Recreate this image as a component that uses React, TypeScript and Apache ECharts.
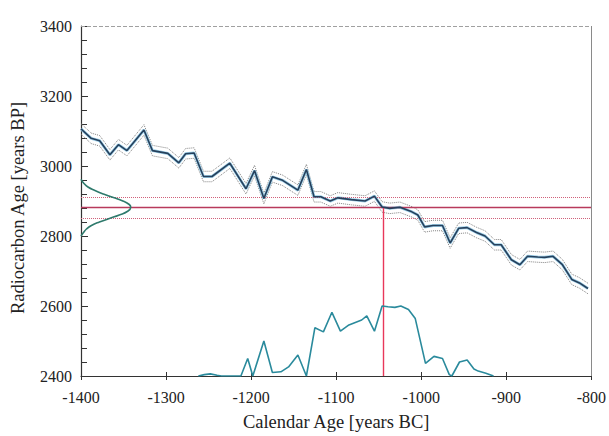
import React, { useEffect, useRef } from "react";
import * as echarts from "echarts";

// Calibration curve: [calendar year, radiocarbon age BP]
const curveYears = [-1400, -1388, -1378, -1366, -1356, -1346, -1326, -1316, -1298, -1285, -1277, -1267, -1256, -1246, -1225, -1206, -1196, -1185, -1175, -1163, -1145, -1135, -1126, -1118, -1107, -1098, -1082, -1066, -1055, -1046, -1037, -1025, -1011, -1004, -996, -986, -975, -966, -956, -946, -935, -925, -914, -906, -894, -884, -875, -863, -855, -845, -834, -823, -814, -804];
const curveBP = [3106, 3079, 3072, 3032, 3061, 3044, 3103, 3044, 3036, 3009, 3035, 3037, 2970, 2970, 3008, 2935, 2987, 2907, 2969, 2959, 2931, 2990, 2912, 2912, 2900, 2909, 2904, 2900, 2914, 2883, 2879, 2882, 2869, 2860, 2826, 2830, 2830, 2780, 2822, 2824, 2810, 2800, 2775, 2775, 2732, 2718, 2742, 2740, 2739, 2742, 2718, 2676, 2666, 2650];
const curveError = 15;

// Measured radiocarbon date
const measuredBP = 2882;
const measuredError = 30;
const interceptYear = -1045;

// Measurement distribution on the BP axis: [relative density, BP]
const gaussBP = [2962, 2950, 2940, 2930, 2920, 2910, 2900, 2890, 2882, 2870, 2860, 2850, 2840, 2830, 2820, 2810, 2800];
const gaussDensity = [0.0, 0.06, 0.14, 0.28, 0.45, 0.65, 0.84, 0.97, 1.0, 0.93, 0.77, 0.57, 0.37, 0.21, 0.11, 0.05, 0.0];

// Calibrated probability: [calendar year, relative probability]
const probYears = [-1262, -1255, -1248, -1240, -1235, -1212, -1204, -1198, -1185, -1175, -1165, -1156, -1145, -1135, -1125, -1115, -1105, -1095, -1085, -1070, -1064, -1055, -1046, -1039, -1031, -1024, -1015, -1007, -995, -985, -975, -967, -964, -955, -946, -938, -933, -924, -915];
const probValues = [0, 0.02, 0.03, 0.01, 0, 0, 0.25, 0, 0.5, 0.05, 0.06, 0.13, 0.3, 0, 0.69, 0.63, 0.91, 0.64, 0.73, 0.8, 0.86, 0.64, 1.0, 0.99, 0.98, 1.0, 0.95, 0.82, 0.18, 0.28, 0.25, 0.02, 0, 0.2, 0.23, 0.1, 0.07, 0.04, 0];

const xTicks = [-1400, -1300, -1200, -1100, -1000, -900, -800];
const yTicks = [2400, 2600, 2800, 3000, 3200, 3400];

const FONT = "'Liberation Serif', 'Times New Roman', serif";

export default function App() {
  const ref = useRef<HTMLDivElement>(null);
  useEffect(() => {
    if (!ref.current) return;
    const chart = echarts.init(ref.current, null, { renderer: "svg" });
    const center = curveYears.map((y, i) => [y, curveBP[i]]);
    const upper = curveYears.map((y, i) => [y, curveBP[i] + curveError]);
    const lower = curveYears.map((y, i) => [y, curveBP[i] - curveError]);
    const gauss = gaussBP.map((b, i) => [gaussDensity[i], b]);
    const prob = probYears.map((y, i) => [y, probValues[i]]);
    const xMin = xTicks[0];
    const xMax = xTicks[xTicks.length - 1];
    const yMin = yTicks[0];
    const yMax = yTicks[yTicks.length - 1];

    chart.setOption({
      animation: false,
      backgroundColor: "#ffffff",
      textStyle: { fontFamily: FONT },
      grid: { left: 81, right: 15, top: 26, bottom: 57 },
      xAxis: [
        {
          type: "value",
          min: xMin,
          max: xMax,
          interval: 100,
          name: "Calendar Age [years BC]",
          nameLocation: "middle",
          nameGap: 36,
          nameTextStyle: { fontFamily: FONT, fontSize: 18.5, color: "#222" },
          axisLine: { show: true, onZero: false, lineStyle: { color: "#333", width: 1.2 } },
          axisTick: { show: true, inside: false, length: 4, lineStyle: { color: "#333" } },
          axisLabel: { fontFamily: FONT, fontSize: 16, color: "#222", margin: 13, formatter: (v: number) => String(v) },
          splitLine: { show: false },
        },
        {
          type: "value",
          min: xMin,
          max: xMax,
          interval: 100,
          position: "bottom",
          axisLine: { show: false, onZero: false },
          axisTick: { show: true, inside: true, length: 4, lineStyle: { color: "#333" } },
          axisLabel: { show: false },
          splitLine: { show: false },
        },
        {
          type: "value",
          min: 0,
          max: 10.26,
          show: false,
        },
      ],
      yAxis: [
        {
          type: "value",
          min: yMin,
          max: yMax,
          interval: 200,
          name: "Radiocarbon Age [years BP]",
          nameLocation: "middle",
          nameGap: 54,
          nameTextStyle: { fontFamily: FONT, fontSize: 18.5, color: "#222", padding: [0, 14, 0, 0] },
          axisLine: { show: true, onZero: false, lineStyle: { color: "#333", width: 1.2 } },
          axisTick: { show: true, inside: true, length: 7, lineStyle: { color: "#333" } },
          minorTick: { show: true, splitNumber: 5, length: 6, lineStyle: { color: "#333" } },
          axisLabel: { fontFamily: FONT, fontSize: 16, color: "#222", margin: 9, formatter: (v: number) => String(v) },
          splitLine: { show: false },
        },
        {
          type: "value",
          min: 0,
          max: 5,
          show: false,
        },
      ],
      series: [
        {
          type: "line",
          data: upper,
          symbol: "none",
          lineStyle: { color: "#808080", width: 1, type: "dotted" },
          z: 3,
        },
        {
          type: "line",
          data: lower,
          symbol: "none",
          lineStyle: { color: "#808080", width: 1, type: "dotted" },
          z: 3,
        },
        {
          type: "line",
          data: center,
          symbol: "none",
          lineStyle: { color: "#9ccfe8", width: 3 },
          z: 4,
        },
        {
          type: "line",
          data: center,
          symbol: "none",
          lineStyle: { color: "#26405c", width: 1.6 },
          z: 5,
          markLine: {
            silent: true,
            symbol: "none",
            label: { show: false },
            data: [
              { yAxis: measuredBP, lineStyle: { color: "#b83a5c", width: 1.3, type: "solid" } },
              { yAxis: measuredBP + measuredError, lineStyle: { color: "#d0607a", width: 1, type: "dotted" } },
              { yAxis: measuredBP - measuredError, lineStyle: { color: "#d0607a", width: 1, type: "dotted" } },
              [
                { coord: [interceptYear, measuredBP] },
                { coord: [interceptYear, yMin], lineStyle: { color: "#e8385a", width: 1.4, type: "solid" } },
              ],
              { yAxis: yMax, lineStyle: { color: "#a0a0a0", width: 1, type: "dashed" } },
              { xAxis: xMax, lineStyle: { color: "#8a8a8a", width: 1, type: "solid" } },
            ],
          },
        },
        {
          type: "line",
          xAxisIndex: 2,
          yAxisIndex: 0,
          data: gauss,
          symbol: "none",
          smooth: true,
          lineStyle: { color: "#2e7a6c", width: 1.6 },
          z: 6,
        },
        {
          type: "line",
          xAxisIndex: 0,
          yAxisIndex: 1,
          data: prob,
          symbol: "none",
          lineStyle: { color: "#2a8a9c", width: 1.6 },
          z: 6,
        },
      ],
    });
    return () => chart.dispose();
  }, []);
  return <div ref={ref} style={{ width: 609, height: 436, position: "fixed", left: 0, top: 0 }} />;
}
